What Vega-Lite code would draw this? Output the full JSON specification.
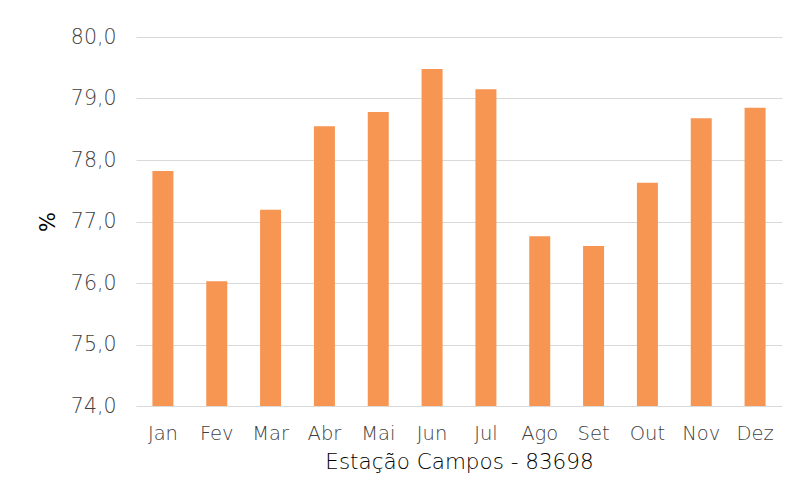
{
  "$schema": "https://vega.github.io/schema/vega-lite/v6.json",
  "autosize": "none",
  "width": 646,
  "height": 369,
  "padding": {"left": 136, "top": 37, "right": 11, "bottom": 93},
  "background": "white",
  "config": {"view": {"stroke": null}, "font": "DejaVu Sans"},
  "data": {"values": [
    {"mes": "Jan", "valor": 77.82},
    {"mes": "Fev", "valor": 76.03},
    {"mes": "Mar", "valor": 77.19},
    {"mes": "Abr", "valor": 78.55},
    {"mes": "Mai", "valor": 78.78},
    {"mes": "Jun", "valor": 79.48},
    {"mes": "Jul", "valor": 79.15},
    {"mes": "Ago", "valor": 76.76},
    {"mes": "Set", "valor": 76.60},
    {"mes": "Out", "valor": 77.63},
    {"mes": "Nov", "valor": 78.68},
    {"mes": "Dez", "valor": 78.85}
  ]},
  "mark": {"type": "bar", "color": "#F79552", "clip": true},
  "encoding": {
    "x": {
      "field": "mes", "type": "nominal", "sort": null,
      "scale": {"paddingInner": 0.61, "paddingOuter": 0.305},
      "axis": {
        "title": "Estação Campos - 83698",
        "labelAngle": 0, "labelFontSize": 19.5, "labelFontWeight": 200, "labelColor": "#404040", "labelPadding": 18,
        "ticks": false, "domain": false,
        "titleFontSize": 21.5, "titleFontWeight": 200, "titleColor": "#000000", "titlePadding": 9
      }
    },
    "y": {
      "field": "valor", "type": "quantitative",
      "scale": {"domain": [74, 80], "zero": false, "nice": false},
      "axis": {
        "title": "%", "values": [74, 75, 76, 77, 78, 79, 80],
        "labelExpr": "replace(format(datum.value, '.1f'), '.', ',')",
        "labelFontSize": 20.5, "labelFontWeight": 200, "labelColor": "#404040", "labelPadding": 20,
        "ticks": false, "domain": false,
        "gridColor": "#d9d9d9", "gridWidth": 1,
        "titleFontSize": 21, "titleFontWeight": "normal", "titleColor": "#000000", "titlePadding": 12
      }
    }
  }
}
